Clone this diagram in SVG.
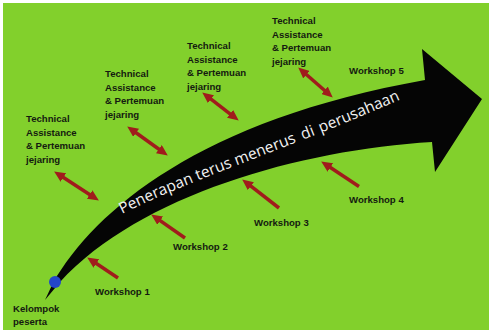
<svg xmlns="http://www.w3.org/2000/svg" xmlns:xlink="http://www.w3.org/1999/xlink" width="489" height="333" viewBox="0 0 489 333">
<style>
.lbl{font-family:"Liberation Sans",Arial,sans-serif;font-weight:bold;font-size:9.6px;fill:#141a10}
.red{stroke:#a01c1c;stroke-width:3.5;fill:none}
.main{font-family:"Open Sans","Liberation Sans",sans-serif;font-size:15.5px;fill:#f2f2f2}
</style>
<defs>
<marker id="ah" markerUnits="userSpaceOnUse" markerWidth="11" markerHeight="10" refX="4" refY="5" orient="auto-start-reverse" viewBox="0 0 11 10">
<path d="M0,0 L11,5 L0,10 z" fill="#a01c1c"/>
</marker>
<path id="tp" d="M 122,214 C 200,175 300,145 410,95"/>
</defs>
<rect x="0" y="0" width="489" height="333" fill="#ffffff"/>
<rect x="3" y="3" width="486" height="327" fill="#82d02c"/>
<g id="main-arrow">
<path d="M45,300 L53,283 C95,210 200,120 425,80 L422,49 L482,99 L435,172 L432,142 C300,150 140,195 60,282 Z" fill="#050505"/>
<circle cx="55" cy="282" r="6" fill="#2346c8"/>
<text class="main"><textPath xlink:href="#tp" href="#tp" startOffset="0">Penerapan</textPath></text>
<text class="main"><textPath xlink:href="#tp" href="#tp" startOffset="83">terus</textPath></text>
<text class="main"><textPath xlink:href="#tp" href="#tp" startOffset="124.5">menerus</textPath></text>
<text class="main"><textPath xlink:href="#tp" href="#tp" startOffset="196">di</textPath></text>
<text class="main"><textPath xlink:href="#tp" href="#tp" startOffset="215">perusahaan</textPath></text>
</g>
<g id="ta1"><text class="lbl" x="26" y="122">Technical</text><text class="lbl" x="26" y="135.5">Assistance</text><text class="lbl" x="26" y="149">&amp; Pertemuan</text><text class="lbl" x="26" y="162.5">jejaring</text></g>
<g id="ta2"><text class="lbl" x="105" y="77">Technical</text><text class="lbl" x="105" y="90.5">Assistance</text><text class="lbl" x="105" y="104">&amp; Pertemuan</text><text class="lbl" x="105" y="117.5">jejaring</text></g>
<g id="ta3"><text class="lbl" x="187" y="49">Technical</text><text class="lbl" x="187" y="62.5">Assistance</text><text class="lbl" x="187" y="76">&amp; Pertemuan</text><text class="lbl" x="187" y="89.5">jejaring</text></g>
<g id="ta4"><text class="lbl" x="272" y="24">Technical</text><text class="lbl" x="272" y="37.5">Assistance</text><text class="lbl" x="272" y="51">&amp; Pertemuan</text><text class="lbl" x="272" y="64.5">jejaring</text></g>
<g id="w1"><text class="lbl" x="95" y="295">Workshop  1</text></g>
<g id="w2"><text class="lbl" x="173" y="250">Workshop 2</text></g>
<g id="w3"><text class="lbl" x="254" y="226">Workshop 3</text></g>
<g id="w4"><text class="lbl" x="349" y="203">Workshop 4</text></g>
<g id="w5"><text class="lbl" x="349" y="74">Workshop 5</text></g>
<g id="kp"><text class="lbl" x="13" y="312">Kelompok</text><text class="lbl" x="13" y="325">peserta</text></g>
<g id="connectors">
<line class="red" x1="60" y1="175.3" x2="93" y2="196.7" marker-start="url(#ah)" marker-end="url(#ah)"/>
<line class="red" x1="132.9" y1="130.5" x2="162.1" y2="151.5" marker-start="url(#ah)" marker-end="url(#ah)"/>
<line class="red" x1="207.8" y1="96.7" x2="233.2" y2="116.3" marker-start="url(#ah)" marker-end="url(#ah)"/>
<line class="red" x1="303.5" y1="72" x2="327.5" y2="93" marker-start="url(#ah)" marker-end="url(#ah)"/>
<line class="red" x1="118" y1="278" x2="93" y2="261.3" marker-end="url(#ah)"/>
<line class="red" x1="185" y1="238" x2="156.9" y2="218.4" marker-end="url(#ah)"/>
<line class="red" x1="279" y1="208" x2="247.7" y2="183.7" marker-end="url(#ah)"/>
<line class="red" x1="359" y1="186.5" x2="327" y2="165.3" marker-end="url(#ah)"/>
</g>
</svg>
